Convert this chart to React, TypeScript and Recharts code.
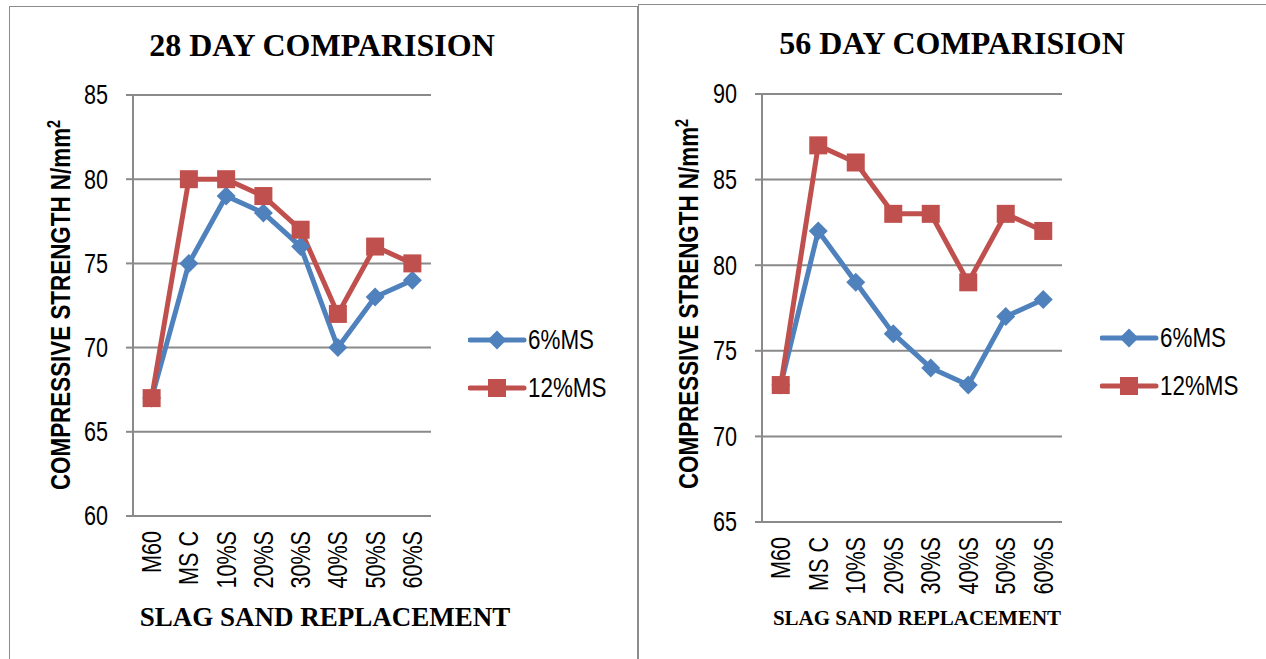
import React from "react";
import { LineChart, Line, XAxis, YAxis, CartesianGrid } from "recharts";

const CATEGORIES = ["M60", "MS C", "10%S", "20%S", "30%S", "40%S", "50%S", "60%S"];

const DAY28_6MS = [67, 75, 79, 78, 76, 70, 73, 74];
const DAY28_12MS = [67, 80, 80, 79, 77, 72, 76, 75];
const DAY56_6MS = [73, 82, 79, 76, 74, 73, 77, 78];
const DAY56_12MS = [73, 87, 86, 83, 83, 79, 83, 82];

const DAY28_TICKS = [60, 65, 70, 75, 80, 85];
const DAY56_TICKS = [65, 70, 75, 80, 85, 90];

const SERIES = [
  { key: "ms6", label: "6%MS", color: "#4F81BD", shape: "diamond" },
  { key: "ms12", label: "12%MS", color: "#C0504D", shape: "square" },
] as const;

// no narrow font installed, so Liberation Sans gets squeezed horizontally
const SANS = '"Liberation Sans", Arial, sans-serif';
const SQUEEZE = 0.8;
const SERIF = '"Liberation Serif", "Times New Roman", serif';
const GRID = "#8a8a8a";

const buildRows = (a: number[], b: number[]) =>
  CATEGORIES.map((name, i) => ({ name, ms6: a[i], ms12: b[i] }));

const Diamond = ({ cx, cy, color }: { cx: number; cy: number; color: string }) => (
  <polygon
    points={`${cx},${cy - 9.5} ${cx + 9.5},${cy} ${cx},${cy + 9.5} ${cx - 9.5},${cy}`}
    fill={color}
  />
);

const Square = ({ cx, cy, color }: { cx: number; cy: number; color: string }) => (
  <rect x={cx - 9} y={cy - 9} width={18} height={18} fill={color} />
);

const makeDot = (shape: string, color: string) => (props: any) => {
  const { cx, cy, index } = props;
  if (cx == null || cy == null) return <g key={index} />;
  return shape === "diamond" ? (
    <Diamond key={index} cx={cx} cy={cy} color={color} />
  ) : (
    <Square key={index} cx={cx} cy={cy} color={color} />
  );
};

const XTick = (props: any) => {
  const { x, y, payload } = props;
  return (
    <text
      transform={`translate(${x} ${y}) rotate(-90) scale(${SQUEEZE} 1)`}
      textAnchor="end"
      dominantBaseline="central"
      fontFamily={SANS}
      fontSize={27}
      fill="#000"
    >
      {payload.value}
    </text>
  );
};

const YTick = (props: any) => {
  const { x, y, payload } = props;
  return (
    <text
      transform={`translate(${x} ${y}) scale(${SQUEEZE} 1)`}
      textAnchor="end"
      dominantBaseline="central"
      fontFamily={SANS}
      fontSize={27}
      fill="#000"
    >
      {payload.value}
    </text>
  );
};

const LegendBox = ({ x, y }: { x: number; y: number }) => (
  <div style={{ position: "absolute", left: x, top: y, fontFamily: SANS, fontSize: 28, color: "#000" }}>
    {SERIES.map((s) => (
      <div key={s.key} style={{ display: "flex", alignItems: "center", height: 48 }}>
        <svg width={60} height={24} style={{ display: "block" }}>
          <line x1={2} y1={12} x2={56} y2={12} stroke={s.color} strokeWidth={5} strokeLinecap="round" />
          {s.shape === "diamond" ? (
            <Diamond cx={29} cy={12} color={s.color} />
          ) : (
            <Square cx={29} cy={12} color={s.color} />
          )}
        </svg>
        <span
          style={{
            marginLeft: 0,
            display: "inline-block",
            transform: `scaleX(${SQUEEZE})`,
            transformOrigin: "left center",
          }}
        >
          {s.label}
        </span>
      </div>
    ))}
  </div>
);

interface PanelProps {
  left: number;
  title: string;
  titleX: number;
  titleY: number;
  xTitleSize: number;
  xTitleX: number;
  xTitleY: number;
  yTitleX: number;
  yTitleY: number;
  rows: { name: string; ms6: number; ms12: number }[];
  ticks: number[];
  plot: { x0: number; x1: number; y0: number; y1: number };
  legendX: number;
  legendY: number;
}

const Panel: React.FC<PanelProps> = (p) => {
  const W = 640;
  const H = 659;
  const yAxisW = 60;
  const xAxisH = 70;
  const band = (p.plot.x1 - p.plot.x0) / CATEGORIES.length;
  return (
    <div style={{ position: "absolute", left: p.left, top: 0, width: W, height: H }}>
      <LineChart
        width={W}
        height={H}
        data={p.rows}
        margin={{
          top: p.plot.y0,
          left: p.plot.x0 - yAxisW,
          right: W - p.plot.x1,
          bottom: H - p.plot.y1 - xAxisH,
        }}
      >
        <CartesianGrid horizontal vertical={false} stroke={GRID} strokeWidth={2} />
        <XAxis
          dataKey="name"
          height={xAxisH}
          padding={{ left: band / 2, right: band / 2 }}
          axisLine={{ stroke: GRID, strokeWidth: 2 }}
          tickLine={false}
          tickSize={0}
          tickMargin={15}
          interval={0}
          tick={<XTick />}
        />
        <YAxis
          width={yAxisW}
          domain={[p.ticks[0], p.ticks[p.ticks.length - 1]]}
          ticks={p.ticks}
          allowDataOverflow
          axisLine={{ stroke: GRID, strokeWidth: 2 }}
          tickLine={{ stroke: GRID, strokeWidth: 2 }}
          tickSize={7}
          tickMargin={18}
          tick={<YTick />}
        />
        {SERIES.map((s) => (
          <Line
            key={s.key}
            dataKey={s.key}
            name={s.label}
            type="linear"
            stroke={s.color}
            strokeWidth={5}
            dot={makeDot(s.shape, s.color)}
            activeDot={false}
            isAnimationActive={false}
          />
        ))}
      </LineChart>
      <LegendBox x={p.legendX} y={p.legendY} />
      <div
        style={{
          position: "absolute",
          left: p.titleX,
          top: p.titleY,
          transform: "translate(-50%, -50%)",
          fontFamily: SERIF,
          fontWeight: "bold",
          fontSize: 32,
          whiteSpace: "nowrap",
        }}
      >
        {p.title}
      </div>
      <div
        style={{
          position: "absolute",
          left: p.xTitleX,
          top: p.xTitleY,
          transform: "translate(-50%, -50%)",
          fontFamily: SERIF,
          fontWeight: "bold",
          fontSize: p.xTitleSize,
          whiteSpace: "nowrap",
        }}
      >
        SLAG SAND REPLACEMENT
      </div>
      <div
        style={{
          position: "absolute",
          left: p.yTitleX,
          top: p.yTitleY,
          transform: "translate(-50%, -50%) rotate(-90deg) scaleX(0.8)",
          fontFamily: SANS,
          fontWeight: "bold",
          fontSize: 28,
          whiteSpace: "nowrap",
          lineHeight: 1,
        }}
      >
        COMPRESSIVE STRENGTH N/mm<sup style={{ fontSize: 18 }}>2</sup>
      </div>
    </div>
  );
};

const App: React.FC = () => (
  <div
    style={{
      position: "absolute",
      left: 0,
      top: 0,
      width: 1266,
      height: 659,
      overflow: "hidden",
      background: "#fff",
    }}
  >
    {/* panel frames */}
    <div style={{ position: "absolute", left: 9, top: 6, width: 627, height: 700, border: "1.5px solid #8c8c8c" }} />
    <div style={{ position: "absolute", left: 638, top: 4, width: 700, height: 700, border: "1.5px solid #8c8c8c" }} />

    <Panel
      left={0}
      title="28 DAY COMPARISION"
      titleX={322}
      titleY={45}
      xTitleSize={27}
      xTitleX={325}
      xTitleY={617}
      yTitleX={60}
      yTitleY={305}
      rows={buildRows(DAY28_6MS, DAY28_12MS)}
      ticks={DAY28_TICKS}
      plot={{ x0: 133, x1: 431, y0: 95, y1: 516 }}
      legendX={468}
      legendY={316}
    />
    <Panel
      left={630}
      title="56 DAY COMPARISION"
      titleX={322}
      titleY={43}
      xTitleSize={21}
      xTitleX={287}
      xTitleY={618}
      yTitleX={58}
      yTitleY={304}
      rows={buildRows(DAY56_6MS, DAY56_12MS)}
      ticks={DAY56_TICKS}
      plot={{ x0: 132, x1: 432, y0: 94, y1: 522 }}
      legendX={470}
      legendY={314}
    />
  </div>
);

export default App;
